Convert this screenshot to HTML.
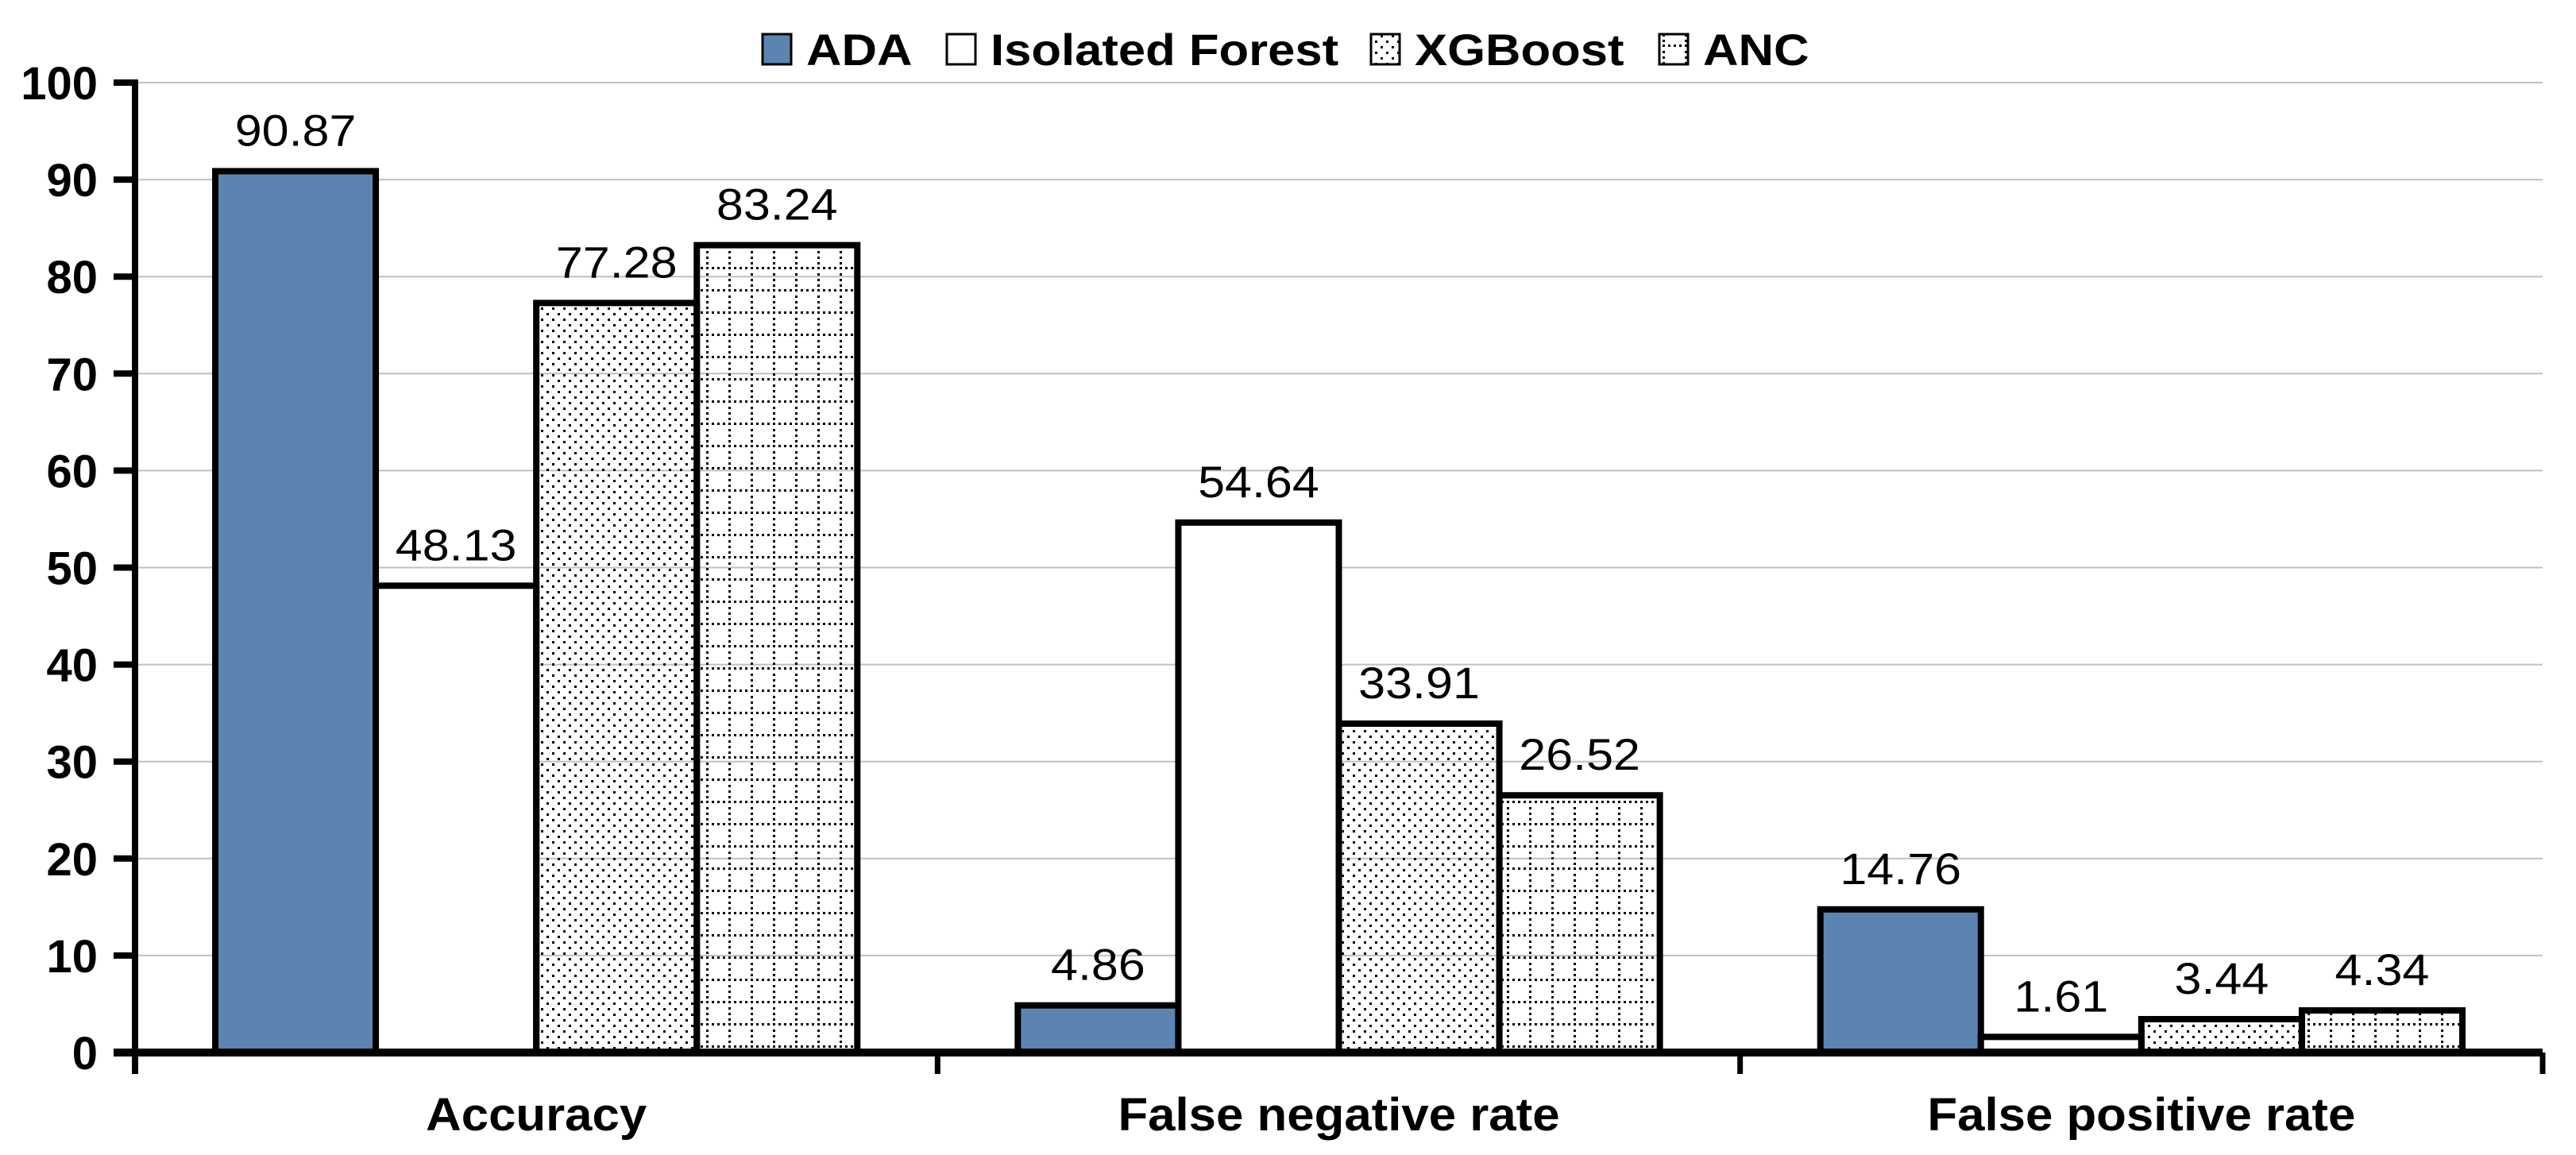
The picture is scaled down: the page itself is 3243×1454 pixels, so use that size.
<!DOCTYPE html>
<html><head><meta charset="utf-8"><style>
html,body{margin:0;padding:0;background:#fff;}
svg{display:block;font-family:"Liberation Sans",Arial,sans-serif;}
</style></head><body>
<svg id="chart" width="3243" height="1454" viewBox="0 0 3243 1454" xmlns="http://www.w3.org/2000/svg">
<defs>
<pattern id="dots" patternUnits="userSpaceOnUse" width="14" height="14">
<rect x="2" y="2" width="3" height="3" fill="#000"/>
<rect x="9" y="9" width="3" height="3" fill="#000"/>
</pattern>
<pattern id="grid" patternUnits="userSpaceOnUse" width="28" height="28">
<rect x="0" y="0" width="3" height="3" fill="#000"/>
<rect x="7" y="0" width="3" height="3" fill="#000"/>
<rect x="14" y="0" width="3" height="3" fill="#000"/>
<rect x="21" y="0" width="3" height="3" fill="#000"/>
<rect x="21" y="8" width="3" height="3" fill="#000"/>
<rect x="21" y="15" width="3" height="3" fill="#000"/>
<rect x="21" y="22" width="3" height="3" fill="#000"/>
</pattern>
</defs>
<g id="grid-lines"></g>
<g id="bars"></g>
<g id="axes"></g>
<g id="legend"></g>
</svg>
<script>
const categories = ["Accuracy", "False negative rate", "False positive rate"];
const seriesNames = ["ADA", "Isolated Forest", "XGBoost", "ANC"];
const adaValues = [90.87, 4.86, 14.76];
const isoValues = [48.13, 54.64, 1.61];
const xgbValues = [77.28, 33.91, 3.44];
const ancValues = [83.24, 26.52, 4.34];
const yTicks = [0, 10, 20, 30, 40, 50, 60, 70, 80, 90, 100];

const NS = "http://www.w3.org/2000/svg";
const X0 = 170, X1 = 3201, Y0 = 1325, Y100 = 104;
const fills = ["#5b84b1", "#ffffff", "url(#dots)", "url(#grid)"];
const series = [adaValues, isoValues, xgbValues, ancValues];
function y(v){ return Y0 - (v/100)*(Y0 - Y100); }
const catW = (X1 - X0) / categories.length;
const barW = catW * 0.2;
function xBar(ci, si){ return X0 + ci*catW + catW*0.1 + si*barW; }
function mk(tag, attrs, parent, text){
  const e = document.createElementNS(NS, tag);
  for (const k in attrs) e.setAttribute(k, attrs[k]);
  if (text !== undefined) e.textContent = text;
  parent.appendChild(e);
  return e;
}
function txt(x, yy, sx, attrs, parent, text){
  attrs.x = 0; attrs.y = 0;
  attrs.transform = "translate(" + x + "," + yy + ") scale(" + sx + ",1)";
  return mk("text", attrs, parent, text);
}
const gGrid = document.getElementById("grid-lines");
const gBars = document.getElementById("bars");
const gAxes = document.getElementById("axes");
const gLeg = document.getElementById("legend");

yTicks.forEach(t => {
  if (t > 0) {
    const l = mk("line", {x1: X0, x2: X1, y1: y(t), y2: y(t), stroke: "#c0c0c0", "stroke-width": 2}, gGrid);
    
    
  }
  const tk = mk("line", {x1: 143, x2: X0, y1: y(t), y2: y(t), stroke: "#000", "stroke-width": 8}, gAxes);
  
  
  const lb = txt(123, y(t) + 21, 1.0, {"text-anchor": "end", "font-size": 58, "font-weight": "bold"}, gAxes, String(t));
  
  
});

categories.forEach((c, ci) => {
  series.forEach((vals, si) => {
    const v = vals[ci];
    const bx = xBar(ci, si);
    const r = mk("rect", {x: bx, y: y(v), width: barW, height: Y0 - y(v), fill: fills[si], stroke: "#000", "stroke-width": 8}, gBars);
    
    
    const t = txt(bx + barW/2, y(v) - 32, 1.09, {"text-anchor": "middle", "font-size": 56}, gBars, v.toFixed(2));
    
    
  });
  const cl = txt(X0 + ci*catW + catW/2, 1423, 1.065, {"text-anchor": "middle", "font-size": 58, "font-weight": "bold"}, gAxes, c);
  
  
});

const ya = mk("line", {x1: X0, x2: X0, y1: Y100 - 4, y2: 1352, stroke: "#000", "stroke-width": 8}, gAxes);


const xa = mk("line", {x1: 143, x2: X1, y1: Y0, y2: Y0, stroke: "#000", "stroke-width": 10}, gAxes);


for (let i = 1; i <= categories.length; i++) {
  const xt = mk("line", {x1: X0 + i*catW, x2: X0 + i*catW, y1: Y0, y2: 1352, stroke: "#000", "stroke-width": 7}, gAxes);
  
  
}

const legX = [960, 1192, 1726, 2089];
seriesNames.forEach((n, i) => {
  const sq = mk("rect", {x: legX[i], y: 43, width: 36, height: 38, fill: fills[i], stroke: "#000", "stroke-width": 3}, gLeg);
  
  
  const tx = txt(legX[i] + 55, 82, 1.1, {"font-size": 56, "font-weight": "bold"}, gLeg, n);
  
  
});
</script>
</body></html>
